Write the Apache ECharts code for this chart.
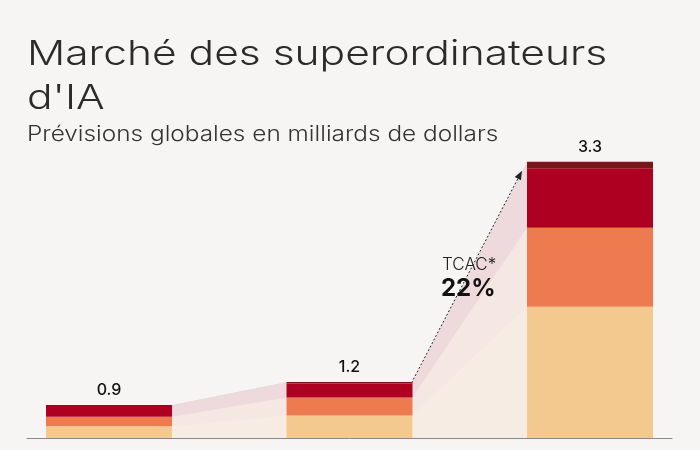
<!DOCTYPE html>
<html>
<head>
<meta charset="utf-8">
<script src="https://cdn.jsdelivr.net/npm/echarts@6/dist/echarts.min.js"></script>
<style>
html,body{margin:0;padding:0;background:#F7F4F4;}
#chart{width:700px;height:450px;}
</style>
</head>
<body>
<div id="chart"></div>
<script>
// Data (segment values, scaled so the last bar totals 3.3)
var positions = [0, 1, 2];
var totalLabels = ['0.9', '1.2', '3.3'];
var segLight  = [0.140, 0.268, 1.568];
var segOrange = [0.115, 0.215, 0.944];
var segRed    = [0.128, 0.167, 0.709];
var segMaroon = [0.012, 0.019, 0.079];
var titleLine1 = 'Marché des superordinateurs';
var titleLine2 = "d'IA";
var subtitleText = 'Prévisions globales en milliards de dollars';
var cagrLabel = 'TCAC*';
var cagrValue = '22%';

var BAR_W = 126;
var colors = ['#F3C98F', '#EE7B50', '#AE0020', '#7A1518'];
var segs = [segLight, segOrange, segRed, segMaroon];

var chart = echarts.init(document.getElementById('chart'), null, {renderer:'canvas'});

var ribbonSeries = {
  type: 'custom',
  z: 1,
  silent: true,
  data: [[0, 0], [1, 0]],
  encode: {x: 0, y: 1},
  renderItem: function(params, api){
    var i = api.value(0);
    var children = [];
    var cumA = 0, cumB = 0;
    var xr = 0, xl = 0, topA = 0, topB = 0;
    for (var s = 0; s < segs.length; s++){
      var a0 = cumA, a1 = cumA + segs[s][i];
      var b0 = cumB, b1 = cumB + segs[s][i+1];
      cumA = a1; cumB = b1;
      var pA0 = api.coord([positions[i], a0]), pA1 = api.coord([positions[i], a1]);
      var pB0 = api.coord([positions[i+1], b0]), pB1 = api.coord([positions[i+1], b1]);
      xr = pA0[0] + BAR_W/2; xl = pB0[0] - BAR_W/2;
      topA = pA1[1]; topB = pB1[1];
      children.push({
        type: 'polygon',
        shape: {points: [[xr, pA1[1]], [xl, pB1[1]], [xl, pB0[1]], [xr, pA0[1]]]},
        style: {fill: colors[s], opacity: s === 0 ? 0.16 : 0.11}
      });
    }
    if (i === 1){
      var sx = xr - 1, sy = topA + 1;
      var ex = xl - 5, ey = topB + 9;
      var ang = Math.atan2(ey - sy, ex - sx);
      var L = 9, W = 3.5;
      var bx = ex - L*Math.cos(ang), by = ey - L*Math.sin(ang);
      children.push({
        type: 'line', z2: 5,
        shape: {x1: sx, y1: sy, x2: bx, y2: by},
        style: {stroke: '#222', lineWidth: 1, lineDash: [2, 2]}
      });
      children.push({
        type: 'polygon', z2: 5,
        shape: {points: [[ex, ey],
          [bx + W*Math.sin(ang), by - W*Math.cos(ang)],
          [bx - W*Math.sin(ang), by + W*Math.cos(ang)]]},
        style: {fill: '#222'}
      });
    }
    return {type: 'group', children: children};
  }
};

var barSeries = segs.map(function(s, k){
  var ser = {
    type: 'bar',
    stack: 'total',
    barWidth: BAR_W,
    z: 3,
    // value first so that stacking happens on the y dimension
    data: s.map(function(v, i){ return [v, positions[i]]; }),
    encode: {x: 1, y: 0},
    itemStyle: {color: colors[k]},
    silent: true
  };
  if (k === segs.length - 1){
    ser.label = {
      show: true, position: 'top', distance: 7,
      fontFamily: 'Inter', fontSize: 16, fontWeight: 500, color: '#111',
      formatter: function(p){ return totalLabels[p.dataIndex]; }
    };
  }
  return ser;
});

chart.setOption({
  backgroundColor: '#F7F4F4',
  animation: false,
  grid: {left: 27, right: 28, top: 103.1, bottom: 12, containLabel: false},
  xAxis: {
    type: 'value', min: -0.341, max: 2.341,
    axisLine: {show: true, onZero: false, lineStyle: {color: '#8a8a8a', width: 1}},
    axisTick: {show: false}, axisLabel: {show: false}, splitLine: {show: false}
  },
  yAxis: {
    type: 'value', min: 0, max: 4,
    axisLine: {show: false}, axisTick: {show: false}, axisLabel: {show: false}, splitLine: {show: false}
  },
  graphic: [
    {type: 'text', x: 27, y: 38, scaleX: 1.25, z: 10,
     style: {text: titleLine1, fontFamily: 'Inter', fontSize: 34, fontWeight: 300, fill: '#2b2b2b', verticalAlign: 'top'}},
    {type: 'text', x: 27, y: 82, scaleX: 1.25, z: 10,
     style: {text: titleLine2, fontFamily: 'Inter', fontSize: 34, fontWeight: 300, fill: '#2b2b2b', verticalAlign: 'top'}},
    {type: 'text', x: 27, y: 124, scaleX: 1.16, z: 10,
     style: {text: subtitleText, fontFamily: 'Inter', fontSize: 21, fontWeight: 300, fill: '#333', verticalAlign: 'top'}},
    {type: 'text', x: 442, y: 256, z: 10,
     style: {text: cagrLabel, fontFamily: 'Inter', fontSize: 17, fontWeight: 300, fill: '#222', verticalAlign: 'top'}},
    {type: 'text', x: 441, y: 277, z: 10,
     style: {text: cagrValue, fontFamily: 'Inter', fontSize: 24, fontWeight: 700, fill: '#111', verticalAlign: 'top'}}
  ],
  series: [ribbonSeries].concat(barSeries)
});
</script>
</body>
</html>
